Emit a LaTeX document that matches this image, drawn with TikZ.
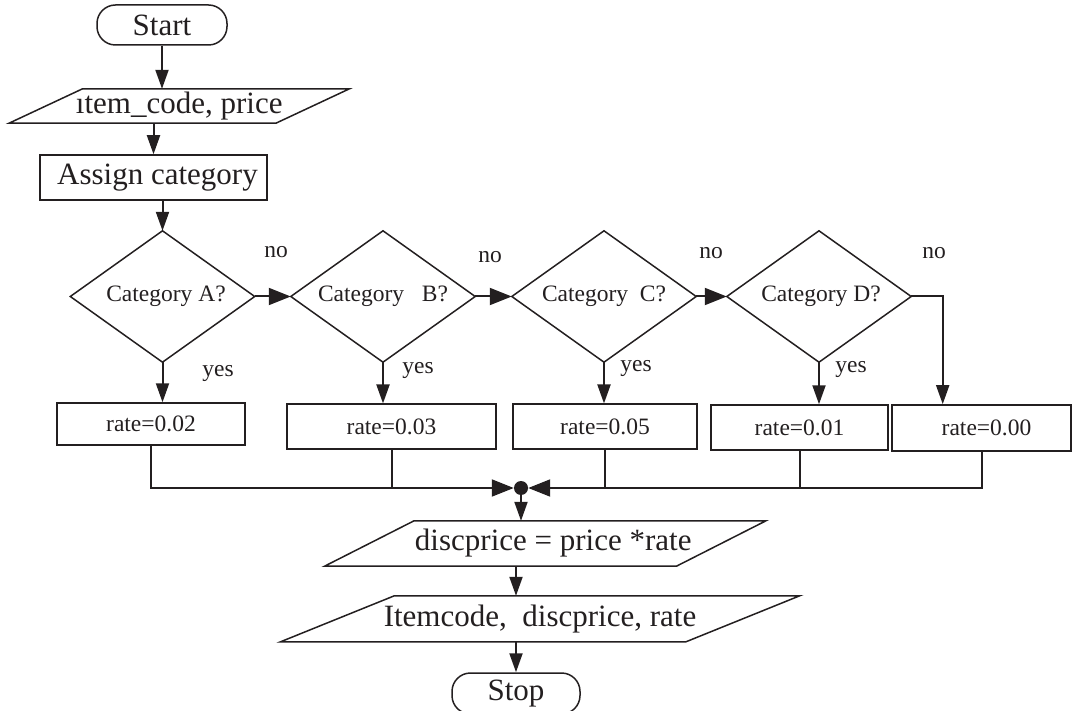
\documentclass[tikz,border=0pt]{standalone}
\usepackage{fontspec}
\setmainfont{Liberation Serif}
\usetikzlibrary{arrows.meta,calc}
\definecolor{ink}{RGB}{35,31,32}
\newcommand\paraoutline[2]{\draw[shapeline] ($(#1.north west)+(#2,0)$) -- ($(#1.north east)+(#2,0)$) -- ($(#1.south east)-(#2,0)$) -- ($(#1.south west)-(#2,0)$) -- cycle;}
\newcommand\diamondoutline[1]{\draw[shapeline] (#1.north) -- (#1.east) -- (#1.south) -- (#1.west) -- cycle;}
\begin{document}
\begin{tikzpicture}[x=1pt,y=-1pt,
  every node/.style={text=ink, inner sep=0pt},
  big/.style={font=\fontsize{31}{36}\selectfont},
  small/.style={font=\fontsize{23.5}{28}\selectfont},
  shapeline/.style={draw=ink, line width=1.5pt, line join=miter},
  term/.style={draw=ink, line width=1.5pt, rounded corners=18.5pt, big},
  procbox/.style={draw=ink, line width=1.5pt},
  ratebox/.style={draw=ink, line width=1.5pt, small},
  conn/.style={draw=ink, line width=2pt},
  arr/.style={conn, -{Triangle[length=19pt,width=13pt]}},
  bigarr/.style={conn, -{Triangle[length=22pt,width=17pt]}},
  dotstyle/.style={circle, fill=ink, minimum size=14pt},
]
\path[use as bounding box] (0,0) rectangle (1074,711);

% top part
\node[term, minimum width=130pt, minimum height=40pt] (start) at (162,25) {Start\hspace{26pt}};
\node[big, minimum width=266.5pt, minimum height=34pt] (p1) at (179.25,106) {ıtem\_code, price};
\paraoutline{p1}{36.75}
\node[procbox, big, minimum width=227pt, minimum height=45pt] (assign) at (153.5,177.5) {\hspace{8pt}Assign category};

% decisions
\node[small, minimum width=184pt, minimum height=131pt] (da) at (162.5,296.5) {\hspace{7pt}Category A?};
\node[small, minimum width=184pt, minimum height=131pt] (db) at (383,296.5) {Category\ \ \ B?\hspace{16pt}};
\node[small, minimum width=184pt, minimum height=131pt] (dc) at (604,296.5) {Category\ \ C?\hspace{12pt}};
\node[small, minimum width=184pt, minimum height=131pt] (dd) at (819,296.5) {\hspace{4pt}Category D?};
\diamondoutline{da}
\diamondoutline{db}
\diamondoutline{dc}
\diamondoutline{dd}

% labels
\node[small] (noa) at (276,252) {no};
\node[small] (nob) at (490,257) {no};
\node[small] (noc) at (711,253) {no};
\node[small] (nod) at (934,253) {no};
\node[small] (yesa) at (218,373) {yes};
\node[small] (yesb) at (418,370) {yes};
\node[small] (yesc) at (636,368) {yes};
\node[small] (yesd) at (851,369) {yes};

% rate boxes
\node[ratebox, minimum width=188pt, minimum height=42pt] (b1) at (151,424) {rate=0.02};
\node[ratebox, minimum width=209pt, minimum height=45pt] (b2) at (391.5,426.7) {rate=0.03};
\node[ratebox, minimum width=184pt, minimum height=45pt] (b3) at (605,426.7) {rate=0.05};
\node[ratebox, minimum width=177pt, minimum height=45pt] (b4) at (799.5,427.5) {rate=0.01};
\node[ratebox, minimum width=179pt, minimum height=46pt] (b5) at (981.5,427.9) {\hspace{10pt}rate=0.00};

% junction and lower part
\node[dotstyle] (dot) at (521,488) {};
\node[big, minimum width=351.5pt, minimum height=45pt] (p2) at (545.25,543.5) {\hspace{16pt}discprice = price *rate};
\paraoutline{p2}{44.75}
\node[big, minimum width=405pt, minimum height=45.7pt] (p3) at (540,618.85) {Itemcode,\ \ discprice, rate};
\paraoutline{p3}{57}
\node[term, minimum width=128pt, minimum height=41pt] (stop) at (516,693.5) {Stop\hspace{11pt}};

% connectors
\draw[arr] (start.south) -- (start.south |- p1.north);
\draw[arr] (p1.south -| assign.south) -- (assign.north);
\draw[arr] (assign.south -| da.north) -- (da.north);
\draw[bigarr] (da.east) -- (db.west);
\draw[bigarr] (db.east) -- (dc.west);
\draw[bigarr] (dc.east) -- (dd.west);
\draw[arr] (da.south) -- (da.south |- b1.north);
\draw[arr] (db.south) -- (db.south |- b2.north);
\draw[arr] (dc.south) -- (dc.south |- b3.north);
\draw[arr] (dd.south) -- (dd.south |- b4.north);
\coordinate (dturn) at (942.7,296.5);
\draw[arr] (dd.east) -- (dturn) -- (dturn |- b5.north);

\draw[bigarr] (b1.south) |- (dot.west);
\draw[bigarr] (b5.south) |- (dot.east);
\draw[conn] (b2.south) -- (b2.south |- dot.center);
\draw[conn] (b3.south) -- (b3.south |- dot.center);
\draw[conn] (b4.south) -- (b4.south |- dot.center);

\draw[arr] (dot.south) -- (dot.south |- p2.north);
\coordinate (s1) at (p2.south -| stop.north);
\draw[arr] (s1) -- (s1 |- p3.north);
\coordinate (s2) at (p3.south -| stop.north);
\draw[arr] (s2) -- (stop.north);
\end{tikzpicture}
\end{document}
